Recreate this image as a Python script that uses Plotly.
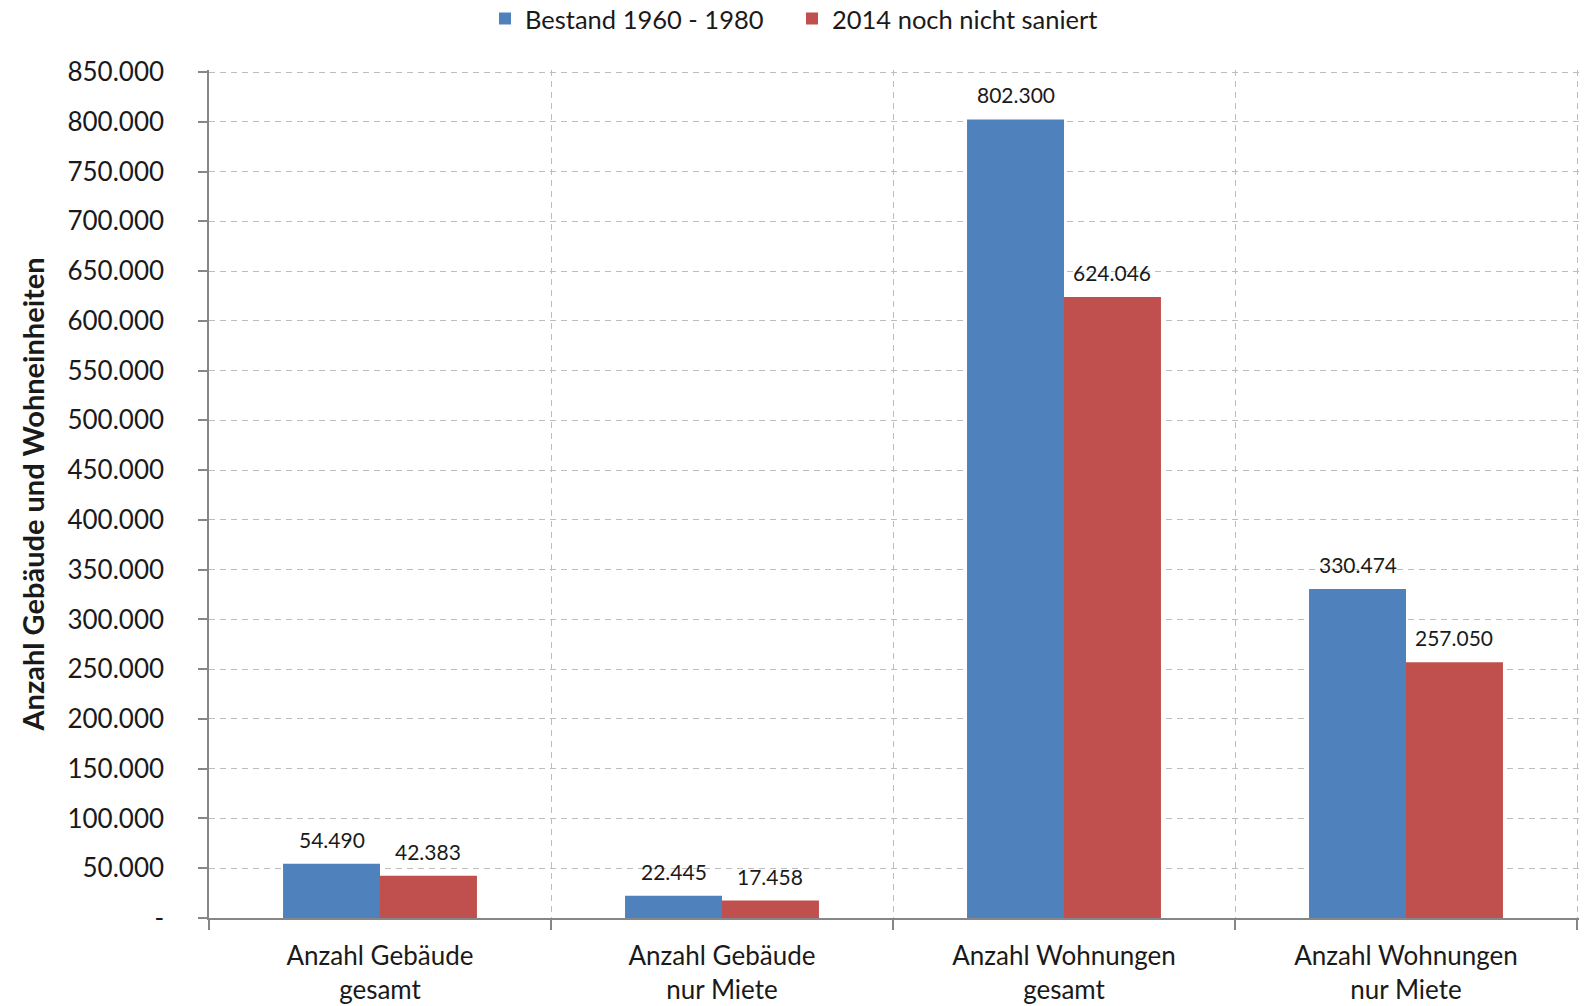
import plotly.graph_objects as go

categories = ["Anzahl Gebäude<br>gesamt", "Anzahl Gebäude<br>nur Miete",
              "Anzahl Wohnungen<br>gesamt", "Anzahl Wohnungen<br>nur Miete"]
series_names = ["Bestand 1960 - 1980", "2014 noch nicht saniert"]
bestand = [54490, 22445, 802300, 330474]
nicht_saniert = [42383, 17458, 624046, 257050]
y_tickvals = [0, 50000, 100000, 150000, 200000, 250000, 300000, 350000, 400000,
              450000, 500000, 550000, 600000, 650000, 700000, 750000, 800000, 850000]
y_ticktext = ["-"] + [f"{v:,}".replace(",", ".") for v in y_tickvals[1:]]

FONT = "Lato"
TXT = "#1a1a1a"
COLORS = ["#4F81BD", "#C0504D"]
GRID = "#bdbdbd"

W, H = 1586, 1006
# plot area extended by 2px on top and right so the edge gridlines stay visible
PAD = 2
ML, MR, MT, MB = 209, 9 - PAD, 72 - PAD, 88
plot_w = W - ML - MR
plot_h = H - MT - MB
n = len(categories)
cat_px = (plot_w - PAD) / n
x_end = n - 0.5 + PAD / cat_px
y_top = 850000 * plot_h / (plot_h - PAD)
BARGAP = 0.433
bar_px = cat_px * (1 - BARGAP) / 2

fig = go.Figure()
annotations = []
for i, (name, vals) in enumerate([(series_names[0], bestand),
                                  (series_names[1], nicht_saniert)]):
    fig.add_trace(go.Bar(
        x=categories, y=vals, name=name,
        marker=dict(color=COLORS[i], line=dict(width=0)),
    ))
    shift = (i - 0.5) * bar_px
    for c, v in zip(categories, vals):
        annotations.append(dict(
            x=c, y=v, xref="x", yref="y", xshift=shift, yshift=10,
            text=f"{v:,}".replace(",", "."), showarrow=False,
            yanchor="bottom", xanchor="center",
            font=dict(family=FONT, size=21, color=TXT),
        ))

fig.update_layout(
    width=W, height=H,
    margin=dict(l=ML, r=MR, t=MT, b=MB, autoexpand=False),
    paper_bgcolor="white", plot_bgcolor="white",
    barmode="group", bargap=BARGAP, bargroupgap=0,
    font=dict(family=FONT, color=TXT),
    legend=dict(orientation="h", x=485 / W, xanchor="left",
                y=1 - 19 / H, yanchor="middle",
                xref="container", yref="container",
                font=dict(family=FONT, size=25.5, color=TXT),
                entrywidth=262, entrywidthmode="pixels", itemwidth=30),
    annotations=annotations,
    showlegend=True,
)
fig.update_xaxes(
    type="category", tickson="boundaries",
    range=[-0.5, x_end],
    showline=True, linecolor="#868686", linewidth=1.5,
    ticks="outside", ticklen=10, tickcolor="#868686", tickwidth=1.5,
    showgrid=True, gridcolor=GRID, griddash="6px,5px", gridwidth=1.3,
    tickfont=dict(family=FONT, size=26, color=TXT),
    ticklabelstandoff=14,
)
fig.update_yaxes(
    range=[0, y_top], tickvals=y_tickvals, ticktext=y_ticktext,
    showline=True, linecolor="#868686", linewidth=1.5,
    ticks="outside", ticklen=9, tickcolor="#868686", tickwidth=1.5,
    showgrid=True, gridcolor=GRID, griddash="6px,5px", gridwidth=1.3,
    zeroline=False,
    tickfont=dict(family=FONT, size=26, color=TXT),
    ticklabelstandoff=29,
    title=dict(text="<b>Anzahl Gebäude und Wohneinheiten</b>",
               font=dict(family=FONT, size=29, color=TXT), standoff=14),
)

fig.write_html("out.html")
